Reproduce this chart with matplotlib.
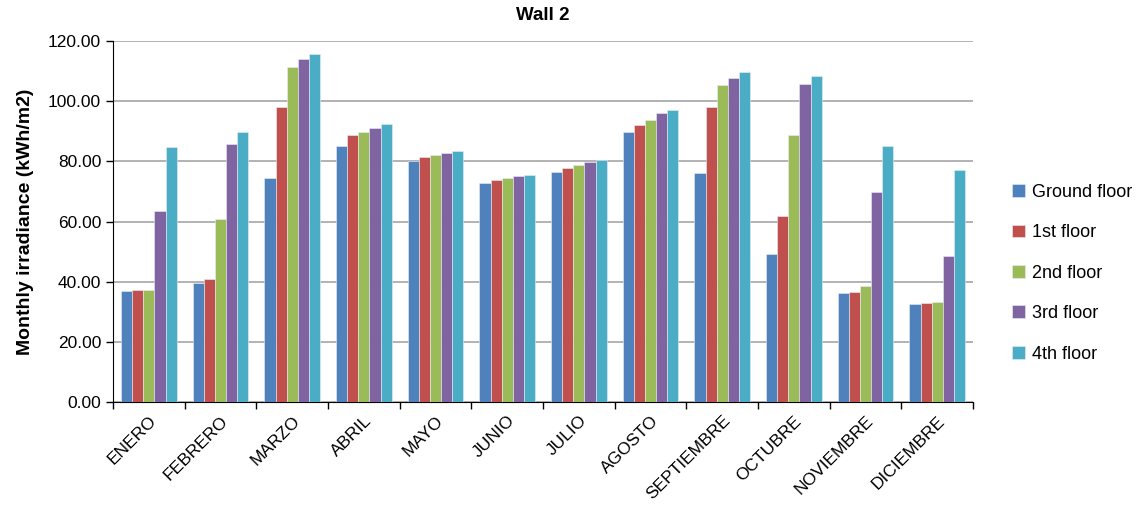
import matplotlib
matplotlib.use("Agg")
import matplotlib.pyplot as plt
import numpy as np

plt.rcParams['font.family'] = ['Liberation Sans', 'DejaVu Sans']

months = ["ENERO", "FEBRERO", "MARZO", "ABRIL", "MAYO", "JUNIO", "JULIO",
          "AGOSTO", "SEPTIEMBRE", "OCTUBRE", "NOVIEMBRE", "DICIEMBRE"]

ground_floor = [36.9, 39.7, 74.4, 85.0, 80.2, 72.9, 76.5, 89.9, 76.2, 49.3, 36.3, 32.5]
first_floor = [37.1, 41.0, 98.2, 88.7, 81.3, 73.8, 77.9, 92.1, 98.2, 61.7, 36.5, 33.0]
second_floor = [37.3, 60.7, 111.5, 89.9, 82.1, 74.6, 78.9, 93.9, 105.5, 88.7, 38.5, 33.1]
third_floor = [63.6, 85.9, 114.1, 91.1, 82.9, 75.0, 79.8, 95.9, 107.6, 105.8, 69.7, 48.5]
fourth_floor = [84.7, 89.6, 115.6, 92.3, 83.5, 75.3, 80.3, 97.2, 109.8, 108.2, 85.1, 77.2]

series_names = ["Ground floor", "1st floor", "2nd floor", "3rd floor", "4th floor"]
series = [ground_floor, first_floor, second_floor, third_floor, fourth_floor]
colors = ["#4F81BD", "#C0504D", "#9BBB59", "#8064A2", "#4BACC6"]

fig = plt.figure(figsize=(11.45, 5.15), dpi=100)
ax = fig.add_axes([0.0987, 0.2194, 0.7511, 0.701])

x = np.arange(len(months))
width = 0.155
for i, (name, vals, c) in enumerate(zip(series_names, series, colors)):
    ax.bar(x + (i - 2) * width, vals, width, color=c, label=name,
           edgecolor="#e8eef5", linewidth=0.4, zorder=3)

ax.set_xlim(-0.5, len(months) - 0.5)
ax.set_ylim(0, 120)
ax.set_yticks(np.arange(0, 121, 20))
ax.set_yticklabels([f"{v:.2f}" for v in np.arange(0, 121, 20)], fontsize=12.5)
ax.yaxis.grid(True, color="#a6a6a6", linewidth=1.2, zorder=0)
ax.set_axisbelow(True)

# category boundaries carry the tick marks; labels sit at the centres
ax.set_xticks(np.arange(-0.5, len(months) + 0.5, 1))
ax.set_xticklabels([])
ax.set_xticks(x, minor=True)
ax.set_xticklabels(months, minor=True, rotation=45, ha="right",
                   rotation_mode="anchor", fontsize=12.5)
ax.tick_params(axis="x", which="major", length=5, direction="out", width=1)
ax.tick_params(axis="x", which="minor", length=0, pad=8)
ax.tick_params(axis="y", length=5, direction="out", width=1)

for side in ["top", "right"]:
    ax.spines[side].set_visible(False)
ax.spines["left"].set_color("black")
ax.spines["bottom"].set_color("black")

ax.set_title("Wall 2", fontsize=13.5, fontweight="bold", pad=15)
ax.set_ylabel("Monthly irradiance (kWh/m2)", fontsize=14, fontweight="bold",
              labelpad=10)

ax.legend(loc="center left", bbox_to_anchor=(1.027, 0.357), frameon=False,
          fontsize=13, handlelength=0.7, handleheight=0.7, handletextpad=0.4,
          labelspacing=1.3)

fig.savefig("out.png", dpi=100)
